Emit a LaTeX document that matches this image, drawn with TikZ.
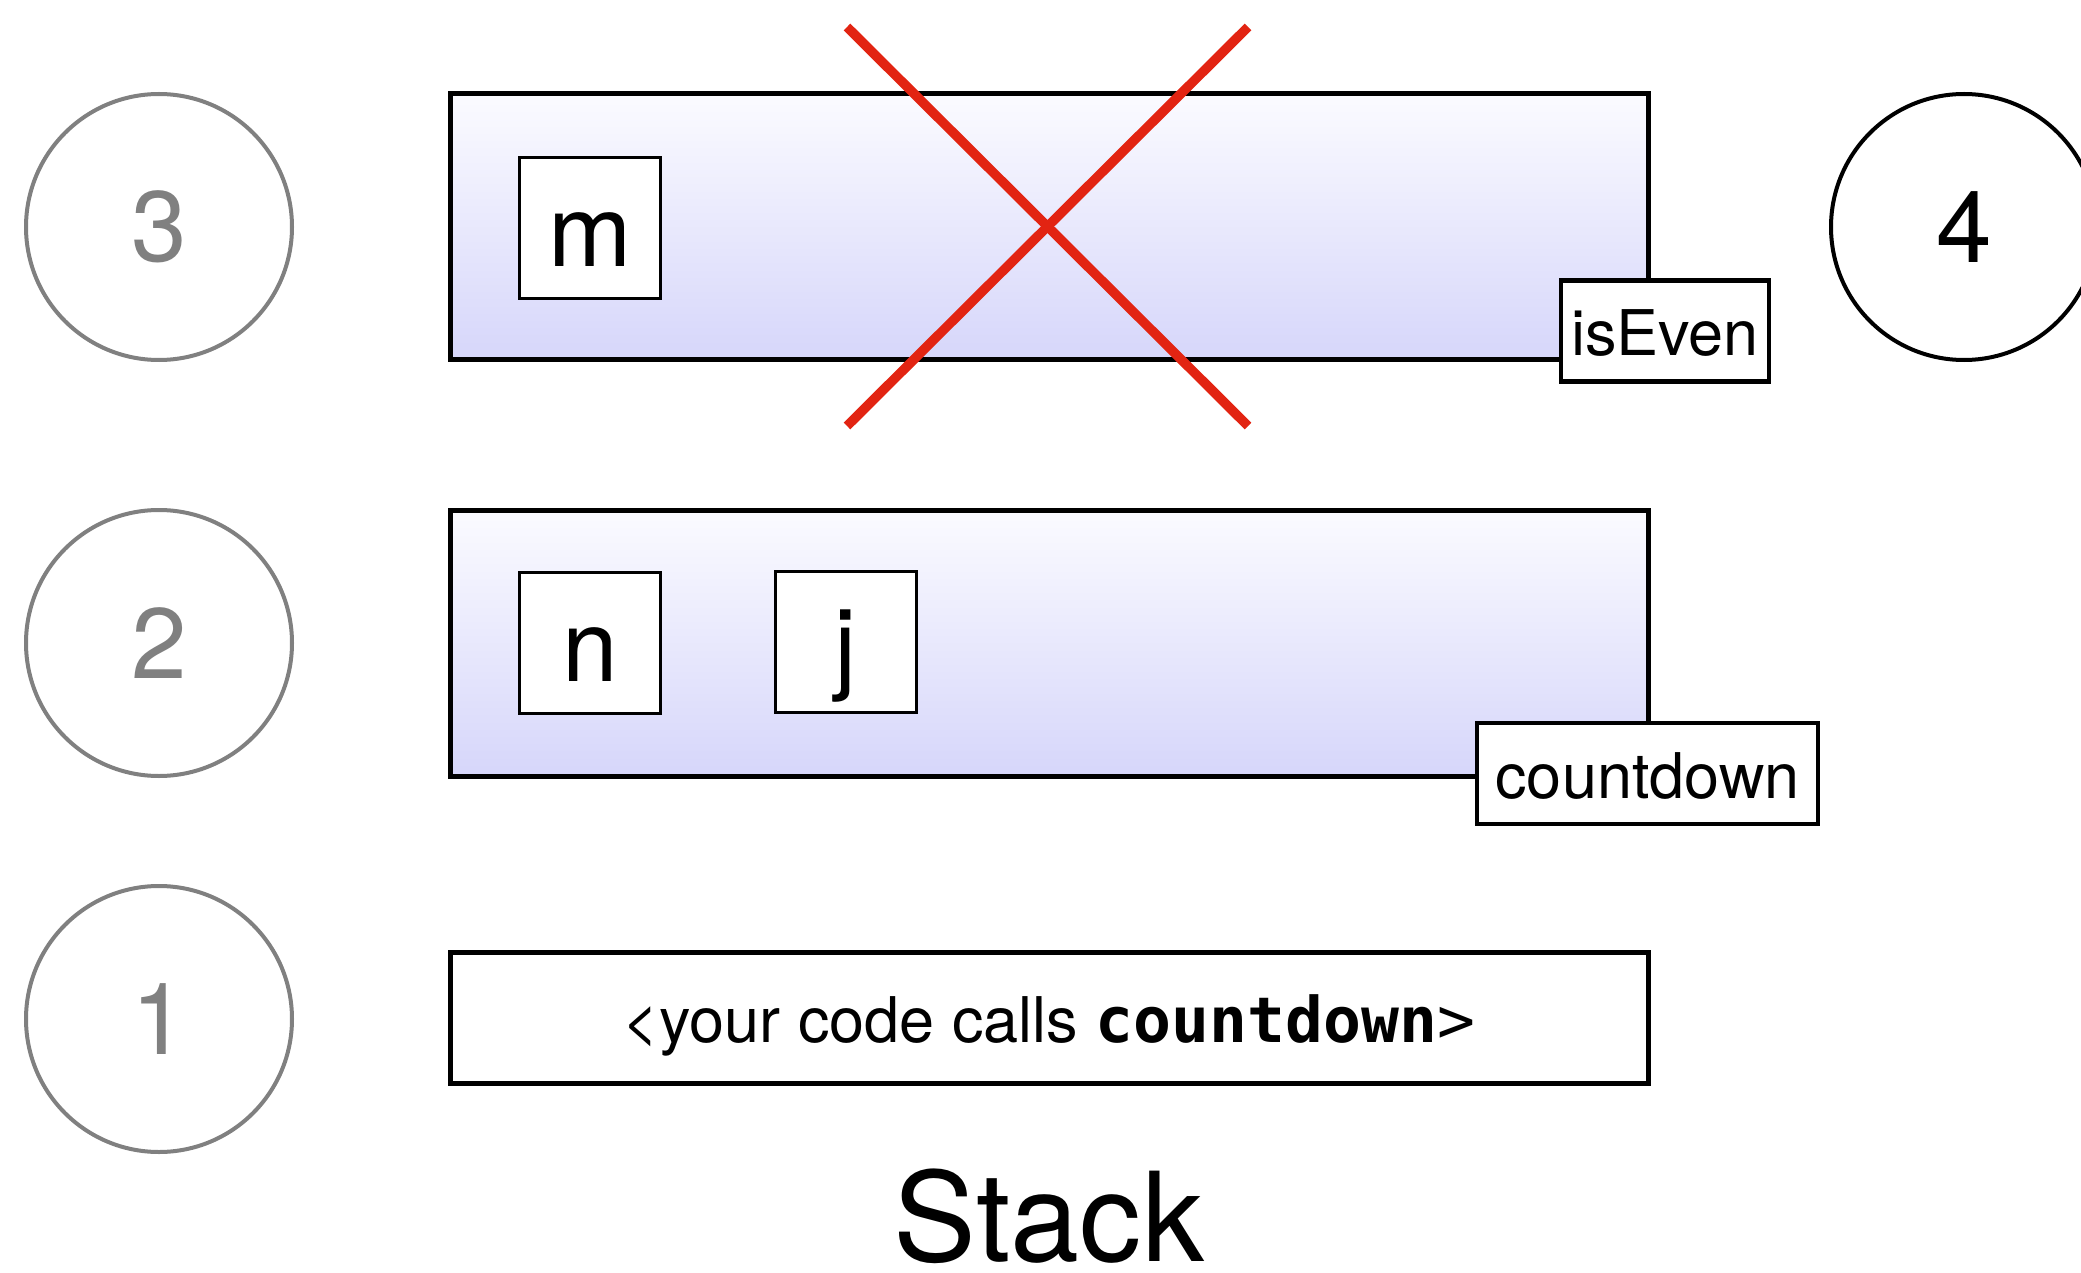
\documentclass[tikz,border=0pt]{standalone}
\usepackage{fontspec}
\setmainfont{TeX Gyre Heros}
\setmonofont{DejaVu Sans Mono}
\definecolor{frametop}{RGB}{251,251,255}
\definecolor{framebot}{RGB}{214,214,250}
\definecolor{circgray}{RGB}{128,128,128}
\definecolor{crossred}{RGB}{226,36,18}
\begin{document}
\begin{tikzpicture}[x=1pt,y=-1pt,
  frame/.style={draw=black, line width=5pt, top color=frametop, bottom color=framebot,
    minimum width=1198pt, minimum height=266pt, inner sep=0pt},
  numcirc/.style={circle, draw=circgray, line width=4pt, minimum size=266pt, inner sep=0pt,
    text=circgray, font=\fontsize{100}{100}\selectfont},
  varbox/.style={draw=black, line width=3pt, fill=white, minimum width=141pt, minimum height=141pt,
    inner sep=0pt, text height=109pt, text depth=32pt, font=\fontsize{100}{100}\selectfont},
  namebox/.style={draw=black, line width=4.5pt, fill=white, minimum height=101pt, inner sep=0pt,
    text height=75pt, text depth=26pt, font=\fontsize{63}{63}\selectfont},
  crossline/.style={draw=crossred, line width=9.5pt}]
\useasboundingbox (0,0) rectangle (2081,1273);

% numbered circles
\node[numcirc] (c3) at (159,227) {3};
\node[numcirc] (c2) at (159,643) {2};
\node[numcirc] (c1) at (159,1019) {1};
\node[numcirc, draw=black, text=black] (c4) at (1964,227) {4};

% frames
\node[frame] (f3) at (1049,227) {};
\node[frame] (f2) at (1049,643) {};
\node[frame, fill=white, top color=white, bottom color=white, minimum height=131pt,
  text height=90pt, text depth=41pt, font=\fontsize{63}{63}\selectfont] (f1) at (1049,1017.5)
  {<your code calls {\ttfamily\bfseries countdown}{\ttfamily >}};

% variables
\node[varbox] (m) at (590,228.5) {m};
\node[varbox] (n) at (590,643) {n};
\node[varbox] (j) at (846,642) {j};

% frame names
\node[namebox, minimum width=208pt] (iseven) at (1665,331) {isEven};
\node[namebox, minimum width=341pt] (cd) at (1647.5,773.5) {countdown};

% red cross
\coordinate (xa) at (847,27);
\coordinate (xb) at (1248,426);
\coordinate (xc) at (1248,27);
\coordinate (xd) at (847,426);
\draw[crossline] (xa) -- (xb);
\draw[crossline] (xc) -- (xd);

% caption
\node[anchor=base, inner sep=0pt, font=\fontsize{124}{124}\selectfont] (stack) at (1049,1261) {Stack};
\end{tikzpicture}
\end{document}
